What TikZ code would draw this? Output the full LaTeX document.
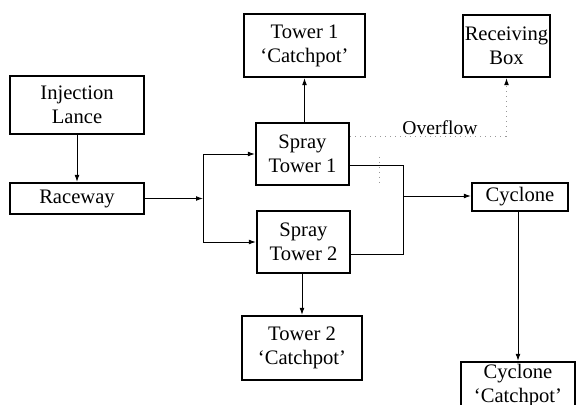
\documentclass[tikz,border=0pt]{standalone}
\usepackage{fontspec}
\setmainfont{Liberation Serif}
\usetikzlibrary{arrows.meta,calc}
\begin{document}
\begin{tikzpicture}[x=0.5pt,y=-0.5pt,
  box/.style={draw,line width=1.1pt,rectangle,inner sep=0pt,align=center,
    font=\fontsize{10.3}{12}\selectfont},
  conn/.style={line width=0.45pt,-{Latex[length=3.5pt,width=2.4pt]}},
  plain/.style={line width=0.45pt},
  ovf/.style={line width=0.5pt,dotted,black!40},
  ovfa/.style={line width=0.5pt,dotted,black!40,-{Latex[length=3.5pt,width=2.4pt]},
    arrows={[black]}}]
\clip (0,0) rectangle (577,405);
\useasboundingbox (0,0) rectangle (577,405);
\node[box,minimum width=67pt,minimum height=29pt] (lance) at (77,105) {Injection\\Lance};
\node[box,minimum width=67pt,minimum height=15.5pt] (race) at (77,198.5) {Raceway};
\node[box,minimum width=60.5pt,minimum height=31.5pt] (t1c) at (304.5,45.5) {Tower 1\\`Catchpot'};
\node[box,minimum width=46.5pt,minimum height=31pt] (sp1) at (302.5,154) {Spray\\Tower 1};
\node[box,minimum width=46.5pt,minimum height=31pt] (sp2) at (303.5,242) {Spray\\Tower 2};
\node[box,minimum width=60pt,minimum height=32pt] (t2c) at (302,348) {Tower 2\\`Catchpot'};
\node[box,minimum width=43.5pt,minimum height=31pt] (recv) at (506.5,46) {Receiving\\Box};
\node[box,minimum width=48pt,minimum height=14pt] (cyc) at (520,197) {Cyclone};
\node[box,minimum width=57pt,minimum height=24pt] (ccat) at (518,386) {Cyclone\\`Catchpot'};
\node[font=\fontsize{9.8}{11}\selectfont,inner sep=0pt] (ovl) at (440,128) {Overflow};
% connectors
\coordinate (j1) at (203,198.5);
\coordinate (j2) at (403,196);
\draw[conn] (lance) -- (race);
\draw[conn] (race.east) -- (j1);
\draw[conn] (j1) |- (sp1.west);
\draw[conn] (j1) |- (sp2.west);
\draw[conn] (sp1.north -| t1c.south) -- (t1c.south);
\draw[conn] (sp2.south -| t2c.north) -- (t2c.north);
\draw[plain] ($(sp1.east)+(0,11)$) -| (j2);
\draw[plain] ($(sp2.east)+(0,12)$) -| (j2);
\draw[conn] (j2) -- (j2 -| cyc.west);
\draw[conn] (cyc.south -| ccat.north) -- (ccat.north);
% overflow (dotted)
\coordinate (o1) at ($(sp1.east)+(0,-17)$);
\coordinate (o2) at (recv.south |- o1);
\draw[ovf] (o1) -- (o2);
\draw[ovfa] (o2) -- (recv.south);
\coordinate (s1) at (379,157);
\coordinate (s2) at (379,184);
\draw[ovf] (s1) -- (s2);
\end{tikzpicture}
\end{document}
